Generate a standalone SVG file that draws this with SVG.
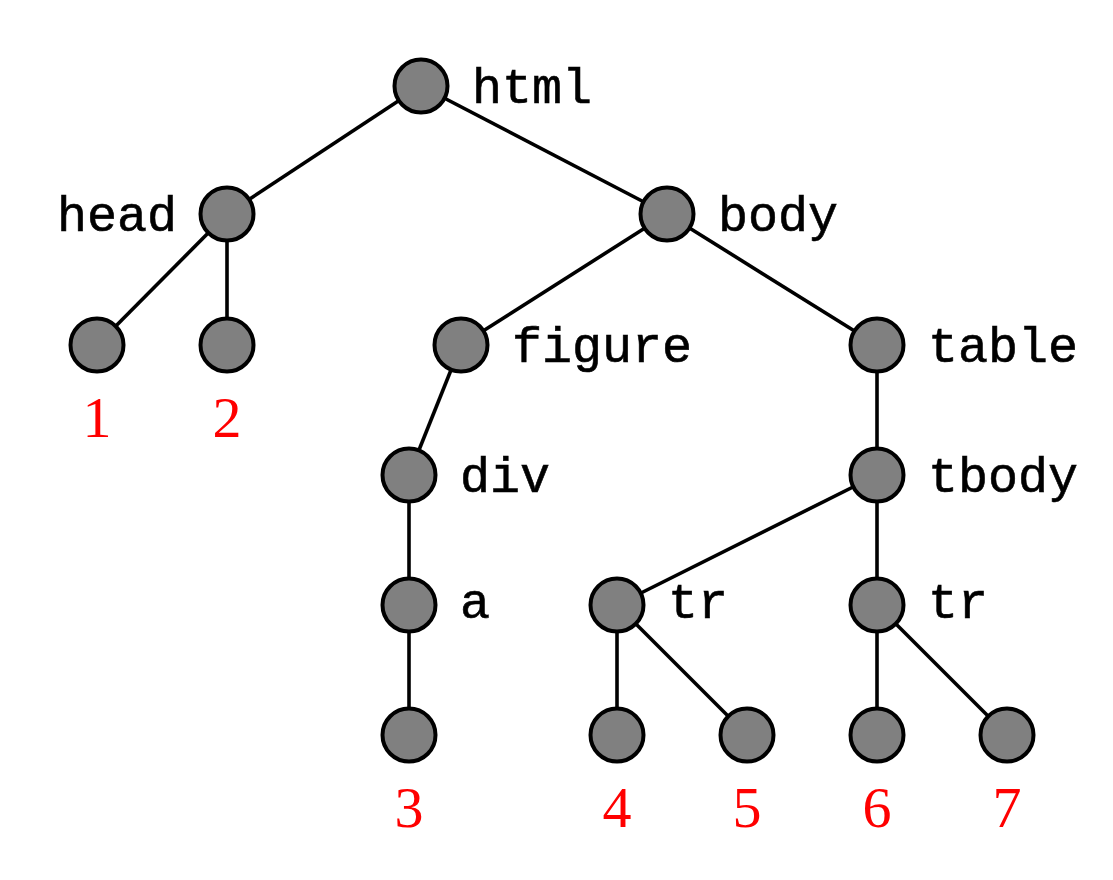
<svg xmlns="http://www.w3.org/2000/svg" width="1113" height="880" viewBox="0 0 1113 880">
<style>
.n{fill:#808080;stroke:#000;stroke-width:4}
.e{stroke:#000;stroke-width:3.6;fill:none}
.t{font-family:"Liberation Mono","DejaVu Sans Mono",monospace;font-size:50px;fill:#000;stroke:#000;stroke-width:0.6}
.num{font-family:"Liberation Serif","DejaVu Serif",serif;font-size:58px;fill:#ff0000;text-anchor:middle}
</style>
<rect width="1113" height="880" fill="#fff"/>
<g id="connectors">
<line class="e" x1="421" y1="86" x2="227" y2="214"/>
<line class="e" x1="421" y1="86" x2="667" y2="214"/>
<line class="e" x1="227" y1="214" x2="97" y2="345"/>
<line class="e" x1="227" y1="214" x2="227" y2="345"/>
<line class="e" x1="667" y1="214" x2="461" y2="345"/>
<line class="e" x1="667" y1="214" x2="877" y2="345"/>
<line class="e" x1="461" y1="345" x2="409" y2="475"/>
<line class="e" x1="409" y1="475" x2="409" y2="605"/>
<line class="e" x1="409" y1="605" x2="409" y2="735"/>
<line class="e" x1="877" y1="345" x2="877" y2="475"/>
<line class="e" x1="877" y1="475" x2="617" y2="605"/>
<line class="e" x1="877" y1="475" x2="877" y2="605"/>
<line class="e" x1="617" y1="605" x2="617" y2="735"/>
<line class="e" x1="617" y1="605" x2="747" y2="735"/>
<line class="e" x1="877" y1="605" x2="877" y2="735"/>
<line class="e" x1="877" y1="605" x2="1007" y2="735"/>
</g>
<g id="html"><circle class="n" cx="421" cy="86" r="26.5"/><text class="t" x="472" y="103">html</text></g>
<g id="head"><circle class="n" cx="227" cy="214" r="26.5"/><text class="t" x="177" y="231" text-anchor="end">head</text></g>
<g id="body"><circle class="n" cx="667" cy="214" r="26.5"/><text class="t" x="718" y="231">body</text></g>
<g id="leaf1"><circle class="n" cx="97" cy="345" r="26.5"/><text class="num" x="97" y="437">1</text></g>
<g id="leaf2"><circle class="n" cx="227" cy="345" r="26.5"/><text class="num" x="227" y="437">2</text></g>
<g id="figure"><circle class="n" cx="461" cy="345" r="26.5"/><text class="t" x="512" y="362">figure</text></g>
<g id="table"><circle class="n" cx="877" cy="345" r="26.5"/><text class="t" x="928" y="362">table</text></g>
<g id="div"><circle class="n" cx="409" cy="475" r="26.5"/><text class="t" x="460" y="492">div</text></g>
<g id="tbody"><circle class="n" cx="877" cy="475" r="26.5"/><text class="t" x="928" y="492">tbody</text></g>
<g id="a"><circle class="n" cx="409" cy="605" r="26.5"/><text class="t" x="460" y="618">a</text></g>
<g id="tr1"><circle class="n" cx="617" cy="605" r="26.5"/><text class="t" x="668" y="618">tr</text></g>
<g id="tr2"><circle class="n" cx="877" cy="605" r="26.5"/><text class="t" x="928" y="618">tr</text></g>
<g id="leaf3"><circle class="n" cx="409" cy="735" r="26.5"/><text class="num" x="409" y="827">3</text></g>
<g id="leaf4"><circle class="n" cx="617" cy="735" r="26.5"/><text class="num" x="617" y="827">4</text></g>
<g id="leaf5"><circle class="n" cx="747" cy="735" r="26.5"/><text class="num" x="747" y="827">5</text></g>
<g id="leaf6"><circle class="n" cx="877" cy="735" r="26.5"/><text class="num" x="877" y="827">6</text></g>
<g id="leaf7"><circle class="n" cx="1007" cy="735" r="26.5"/><text class="num" x="1007" y="827">7</text></g>
</svg>
